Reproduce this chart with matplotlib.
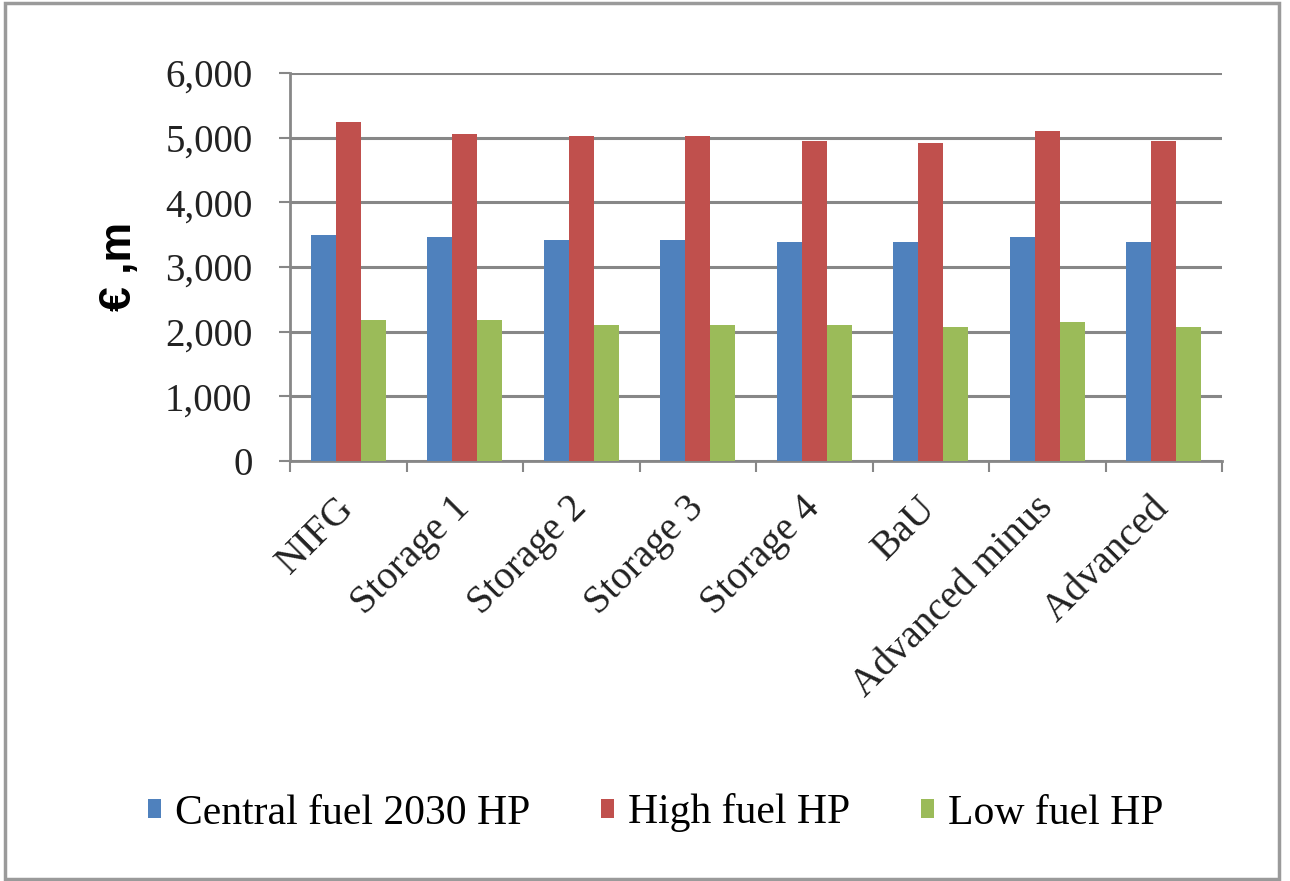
import numpy as np
import matplotlib
matplotlib.use('Agg')
import matplotlib.pyplot as plt
from matplotlib.patches import Rectangle

# Scenario costs (EUR million) under three fuel price assumptions
scenarios = ['NIFG', 'Storage 1', 'Storage 2', 'Storage 3', 'Storage 4',
             'BaU', 'Advanced minus', 'Advanced']
central_fuel = [3500, 3460, 3410, 3410, 3380, 3380, 3460, 3380]
high_fuel = [5250, 5055, 5030, 5030, 4950, 4920, 5110, 4950]
low_fuel = [2180, 2180, 2100, 2100, 2100, 2070, 2150, 2070]
series_names = ['Central fuel 2030 HP', 'High fuel HP', 'Low fuel HP']
y_ticks = [0, 1000, 2000, 3000, 4000, 5000, 6000]

colors = ['#4F81BD', '#C0504D', '#9BBB59']
grid_color = '#878787'
serif = 'Liberation Serif'

fig = plt.figure(figsize=(12.9, 8.81), dpi=100)
ax = fig.add_axes([290 / 1290, 1 - 461 / 881, 932 / 1290, 388 / 881])

x = np.arange(len(scenarios))
width = 0.215
for i, (vals, name) in enumerate(zip([central_fuel, high_fuel, low_fuel], series_names)):
    ax.bar(x + (i - 1) * width, vals, width, color=colors[i], label=name, zorder=3)

ax.set_xlim(-0.5, len(scenarios) - 0.5)
ax.set_ylim(0, 6000)
ax.set_yticks(y_ticks)
ax.set_yticklabels([f'{v:,}' for v in y_ticks], fontfamily=serif, fontsize=28, color='#222222')
ax.yaxis.grid(True, color=grid_color, linewidth=2.2, zorder=0)
ax.tick_params(axis='y', length=8, width=1.5, color=grid_color, pad=19)

# category labels in the middle, tick marks on the boundaries
ax.set_xticks(x)
ax.set_xticklabels(scenarios, rotation=45, ha='right', va='center', rotation_mode='anchor',
                   fontfamily=serif, fontsize=28.5, color='#222222')
ax.tick_params(axis='x', which='major', length=0, pad=30)
ax.set_xticks(np.arange(len(scenarios) + 1) - 0.5, minor=True)
ax.tick_params(axis='x', which='minor', length=8, width=1.5, color=grid_color)

for side in ['top', 'right']:
    ax.spines[side].set_visible(False)
for side in ['left', 'bottom']:
    ax.spines[side].set_color(grid_color)
    ax.spines[side].set_linewidth(2)

fig.text(120 / 1290, 1 - 266 / 881, '€ ,m', rotation=90, ha='center', va='center',
         fontfamily='Liberation Sans', fontweight='bold', fontsize=32)

fig.legend(loc='center', bbox_to_anchor=(656 / 1290, 1 - 813 / 881), ncol=3,
           frameon=False, prop={'family': serif, 'size': 30},
           handlelength=0.3, handleheight=0.35, handletextpad=0.35, columnspacing=1.7)

fig.add_artist(Rectangle((5 / 1290, 2 / 881), 1274 / 1290, 876 / 881,
                         transform=fig.transFigure, fill=False,
                         edgecolor='#9a9a9a', linewidth=2.5))

fig.savefig('out.png', dpi=100)
